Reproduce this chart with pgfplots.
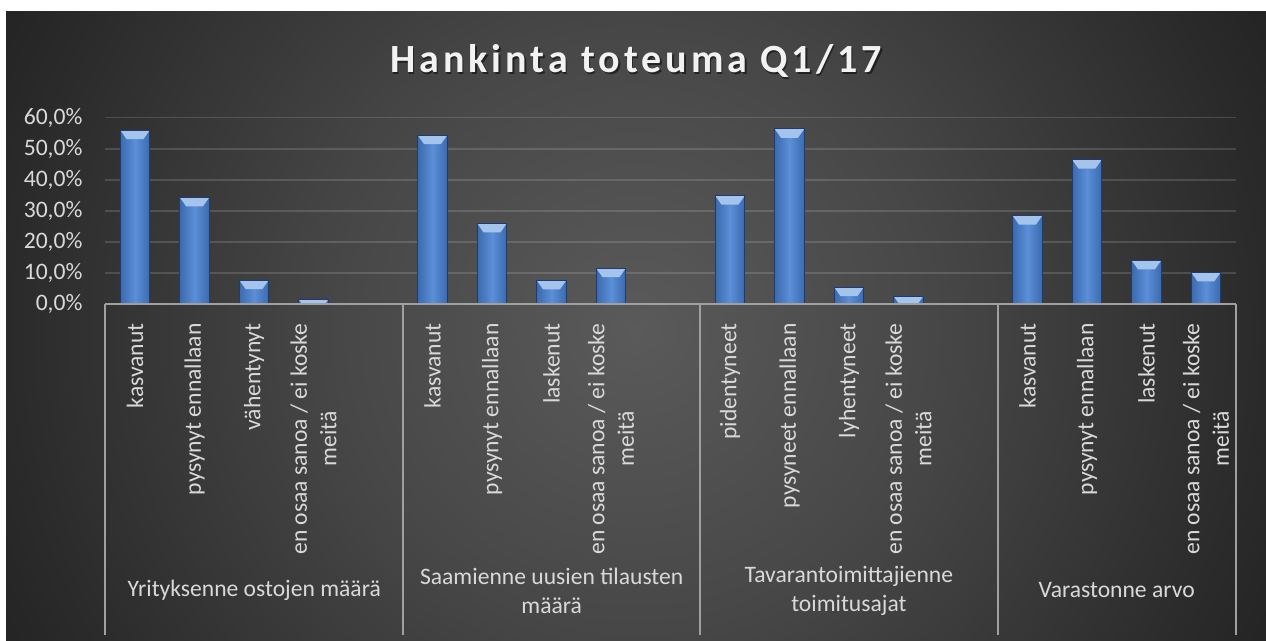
\documentclass[border=0pt]{standalone}
\usepackage{pgfplots}
\pgfplotsset{compat=1.18}
\usepackage{fontspec}
\setmainfont{Carlito}
\newfontfamily\titlefont[LetterSpace=10]{Carlito}
\definecolor{bgc0}{HTML}{5A5A5A}
\definecolor{bgc1}{HTML}{474747}
\definecolor{bgc2}{HTML}{2A2A2A}
\definecolor{bgc3}{HTML}{232323}
\definecolor{txtgrey}{HTML}{D9D9D9}
\definecolor{titlec}{HTML}{F2F2F2}
\definecolor{sepgrey}{HTML}{A0A0A0}
\definecolor{bardark}{HTML}{3B6AAE}
\definecolor{barmid}{HTML}{5B8FD8}
\definecolor{bardeep}{HTML}{1E3C6E}
\definecolor{barbevel}{HTML}{A4C4EE}
\pgfdeclareradialshading{bgshade}{\pgfpointorigin}{color(0bp)=(bgc0); color(10.4bp)=(bgc1); color(21.9bp)=(bgc2); color(25bp)=(bgc3); color(50bp)=(bgc3)}
\newcommand{\lbl}{\fontsize{11.8}{14.8}\selectfont}
\newcommand{\bevel}{%
 \pgfsetfillcolor{barbevel}%
 \pgfpathmoveto{\pgfpointanchor{path picture bounding box}{north west}}%
 \pgfpathlineto{\pgfpointanchor{path picture bounding box}{north east}}%
 \pgfpathlineto{\pgfpointadd{\pgfpointanchor{path picture bounding box}{north east}}{\pgfpoint{-3.2pt}{-4.5pt}}}%
 \pgfpathlineto{\pgfpointadd{\pgfpointanchor{path picture bounding box}{north west}}{\pgfpoint{3.2pt}{-4.5pt}}}%
 \pgfpathclose\pgfusepath{fill}}
\pgfplotsset{mybar/.style={ybar, bar width=14.8pt, bar shift=0pt, draw=bardeep, line width=0.4pt,
  left color=bardark, right color=bardark, middle color=barmid, path picture={\bevel}}}
\begin{document}
\begin{tikzpicture}
\begin{scope}[x=0.5pt,y=0.5pt]
\useasboundingbox (0,0) rectangle (1266,641);
\fill[white] (0,0) rectangle (1266,641);
\begin{scope}
\clip (6,0) rectangle (1266,629);
\shade[shading=bgshade] (636,311) circle (720);
\end{scope}
\end{scope}
\begin{axis}[
 at={(52.65pt,168.35pt)}, anchor=south west,
 scale only axis, width=565.2pt, height=93.3pt,
 xmin=-0.5, xmax=18.5, ymin=0, ymax=60,
 axis line style={draw=none},
 major tick length=0pt,
 /pgf/number format/assume math mode=true,
 ytick={0,10,20,30,40,50,60},
 yticklabel={\pgfmathprintnumber[fixed,fixed zerofill,precision=1,use comma]{\tick}\%},
 yticklabel style={font=\lbl, text=txtgrey},
 yticklabel shift=7.9pt,
 ymajorgrids, grid style={draw=white, draw opacity=0.14, line width=0.75pt},
 xtick={0,1,2,3,5,6,7,8,10,11,12,13,15,16,17,18},
 xticklabels={kasvanut, pysynyt ennallaan, vähentynyt, {en osaa sanoa / ei koske\\meitä},
   kasvanut, pysynyt ennallaan, laskenut, {en osaa sanoa / ei koske\\meitä},
   pidentyneet, pysyneet ennallaan, lyhentyneet, {en osaa sanoa / ei koske\\meitä},
   kasvanut, pysynyt ennallaan, laskenut, {en osaa sanoa / ei koske\\meitä}},
 xticklabel style={rotate=90, anchor=east, align=center, font=\lbl, text=txtgrey},
 xticklabel shift=6pt,
 ybar,
 clip=false,
]
% Yrityksenne ostojen maara
\addplot[mybar] coordinates {(0,56.0)};
\addplot[mybar] coordinates {(1,34.4)};
\addplot[mybar] coordinates {(2,7.8)};
\addplot[mybar] coordinates {(3,1.6)};
% Saamienne uusien tilausten maara
\addplot[mybar] coordinates {(5,54.4)};
\addplot[mybar] coordinates {(6,26.0)};
\addplot[mybar] coordinates {(7,7.7)};
\addplot[mybar] coordinates {(8,11.6)};
% Tavarantoimittajienne toimitusajat
\addplot[mybar] coordinates {(10,34.9)};
\addplot[mybar] coordinates {(11,56.4)};
\addplot[mybar] coordinates {(12,5.5)};
\addplot[mybar] coordinates {(13,2.6)};
% Varastonne arvo
\addplot[mybar] coordinates {(15,28.5)};
\addplot[mybar] coordinates {(16,46.5)};
\addplot[mybar] coordinates {(17,14.1)};
\addplot[mybar] coordinates {(18,10.3)};
\end{axis}
\begin{scope}[x=0.5pt,y=0.5pt]
\draw[sepgrey, line width=1pt] (105.3,336.7) -- (1235.7,336.7);
\foreach \xx in {105.3,403.3,700,997.7,1235.7} \draw[sepgrey, line width=1pt] (\xx,336.7) -- (\xx,6);
\node[font=\lbl, text=txtgrey, align=center] at (254.3,51) {Yrityksenne ostojen määrä};
\node[font=\lbl, text=txtgrey, align=center] at (551.7,50) {Saamienne uusien tilausten\\määrä};
\node[font=\lbl, text=txtgrey, align=center] at (848.9,50) {Tavarantoimittajienne\\toimitusajat};
\node[font=\lbl, text=txtgrey, align=center] at (1116.7,51) {Varastonne arvo};
\node[text=black, opacity=0.5, font=\titlefont\bfseries\fontsize{20}{24}\selectfont, anchor=base] at (637.5,566) {Hankinta toteuma Q1/17};
\node[text=titlec, font=\titlefont\bfseries\fontsize{20}{24}\selectfont, anchor=base] at (636,568) {Hankinta toteuma Q1/17};
\end{scope}
\end{tikzpicture}
\end{document}
